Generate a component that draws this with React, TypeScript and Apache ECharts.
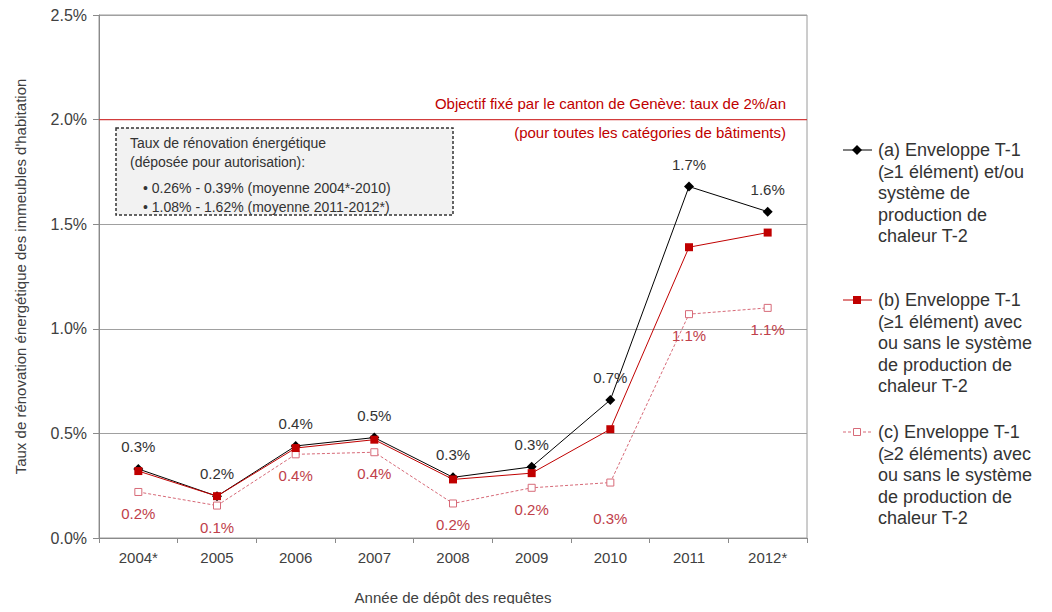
import React, { useEffect, useRef } from "react";
import * as echarts from "echarts";

const categories = ["2004*", "2005", "2006", "2007", "2008", "2009", "2010", "2011", "2012*"];
const seriesA = [0.33, 0.2, 0.44, 0.48, 0.29, 0.34, 0.66, 1.68, 1.56];
const seriesB = [0.32, 0.2, 0.43, 0.47, 0.28, 0.31, 0.52, 1.39, 1.46];
const seriesC = [0.22, 0.155, 0.4, 0.41, 0.165, 0.24, 0.265, 1.07, 1.1];
const labelsA = ["0.3%", "0.2%", "0.4%", "0.5%", "0.3%", "0.3%", "0.7%", "1.7%", "1.6%"];
const labelsC = ["0.2%", "0.1%", "0.4%", "0.4%", "0.2%", "0.2%", "0.3%", "1.1%", "1.1%"];
const objectiveValue = 2.0;
const objectiveLines = [
  "Objectif fixé par le canton de Genève: taux de 2%/an",
  "(pour toutes les catégories de bâtiments)",
];
const boxLines = [
  "Taux de rénovation énergétique",
  "(déposée pour autorisation):",
  "• 0.26% - 0.39% (moyenne 2004*-2010)",
  "• 1.08% - 1.62% (moyenne 2011-2012*)",
];
const legendA = ["(a) Enveloppe T-1", "(≥1 élément) et/ou", "système de", "production de", "chaleur T-2"];
const legendB = ["(b) Enveloppe T-1", "(≥1 élément) avec", "ou sans le système", "de production de", "chaleur T-2"];
const legendC = ["(c) Enveloppe T-1", "(≥2 éléments) avec", "ou sans le système", "de production de", "chaleur T-2"];

const FONT = "'Liberation Sans', Arial, sans-serif";
const BLACK = "#000000";
const RED = "#c00000";
const OBJ_RED = "#d23c3c";
const PINK = "#d76a78";
const PINK_TEXT = "#c0404a";
const TXT = "#333333";
const GRID = "#a0a0a0";

export default function App() {
  const ref = useRef<HTMLDivElement>(null);
  useEffect(() => {
    if (!ref.current) return;
    const chart = echarts.init(ref.current, undefined, { renderer: "svg" });

    const graphics: any[] = [];
    graphics.push({
      type: "text", x: 786, y: 103,
      style: { text: objectiveLines[0], fill: RED, font: `15px ${FONT}`, textAlign: "right", textVerticalAlign: "middle" },
    });
    graphics.push({
      type: "text", x: 786, y: 132,
      style: { text: objectiveLines[1], fill: RED, font: `15px ${FONT}`, textAlign: "right", textVerticalAlign: "middle" },
    });
    graphics.push({
      type: "rect", shape: { x: 116, y: 128, width: 337, height: 87 },
      style: { fill: "#f2f2f2", stroke: "#333", lineWidth: 1.5, lineDash: [3, 2] },
    });
    const boxY = [143, 162, 188, 207];
    const boxX = [130, 130, 143, 143];
    boxLines.forEach((t, i) => {
      graphics.push({
        type: "text", x: boxX[i], y: boxY[i],
        style: { text: t, fill: TXT, font: `14px ${FONT}`, textVerticalAlign: "middle" },
      });
    });
    const legends = [
      { lines: legendA, y: 150, color: BLACK, dash: null, marker: "diamond" },
      { lines: legendB, y: 300, color: RED, dash: null, marker: "rect" },
      { lines: legendC, y: 432, color: PINK, dash: [3, 2], marker: "empty" },
    ];
    legends.forEach((lg) => {
      graphics.push({
        type: "line", shape: { x1: 843, y1: lg.y, x2: 872, y2: lg.y },
        style: { stroke: lg.color, lineWidth: 1, lineDash: lg.dash || undefined },
      });
      if (lg.marker === "diamond") {
        graphics.push({
          type: "polygon", shape: { points: [[857, lg.y - 5], [862, lg.y], [857, lg.y + 5], [852, lg.y]] },
          style: { fill: lg.color },
        });
      } else if (lg.marker === "rect") {
        graphics.push({ type: "rect", shape: { x: 853, y: lg.y - 4, width: 8, height: 8 }, style: { fill: lg.color } });
      } else {
        graphics.push({
          type: "rect", shape: { x: 853.5, y: lg.y - 3.5, width: 7, height: 7 },
          style: { fill: "#fff", stroke: lg.color, lineWidth: 1 },
        });
      }
      lg.lines.forEach((t, k) => {
        graphics.push({
          type: "text", x: 878, y: lg.y + k * 21.5,
          style: { text: t, fill: TXT, font: `18px ${FONT}`, textVerticalAlign: "middle" },
        });
      });
    });

    const dataC = seriesC.map((v, i) =>
      i === 6 ? { value: v, label: { distance: 24 } } : v
    );

    chart.setOption({
      animation: false,
      textStyle: { fontFamily: FONT },
      grid: { left: 99, right: 245, top: 15, bottom: 74, show: true, borderColor: "#9a9a9a", borderWidth: 1 },
      xAxis: [
        {
          type: "category",
          data: categories,
          boundaryGap: true,
          axisLine: { lineStyle: { color: "#8a8a8a" } },
          axisTick: { show: true, alignWithLabel: false, length: 5, lineStyle: { color: "#8a8a8a" } },
          axisLabel: { fontSize: 15, color: "#404040", margin: 12, fontFamily: FONT },
          name: "Année de dépôt des requêtes",
          nameLocation: "middle",
          nameGap: 52,
          nameTextStyle: { fontSize: 15, color: "#404040", fontFamily: FONT },
        },
        { type: "value", min: 0, max: 1, show: false },
      ],
      yAxis: {
        type: "value",
        min: 0,
        max: 2.5,
        interval: 0.5,
        axisLine: { show: true, lineStyle: { color: "#8a8a8a" } },
        axisTick: { show: true, length: 6, lineStyle: { color: "#8a8a8a" } },
        axisLabel: { fontSize: 16, color: "#404040", margin: 12, fontFamily: FONT, formatter: (v: number) => v.toFixed(1) + "%" },
        splitLine: { show: true, lineStyle: { color: GRID, width: 1 } },
        name: "Taux de rénovation énergétique des immeubles d'habitation",
        nameLocation: "middle",
        nameGap: 71,
        nameTextStyle: { fontSize: 15, color: "#404040", fontFamily: FONT },
      },
      graphic: graphics,
      series: [
        {
          name: "objectif",
          type: "line",
          xAxisIndex: 1,
          data: [[0, objectiveValue], [1, objectiveValue]],
          symbol: "none",
          silent: true,
          lineStyle: { color: OBJ_RED, width: 1.2 },
          itemStyle: { color: OBJ_RED },
          z: 1,
        },
        {
          name: "a",
          type: "line",
          data: seriesA,
          symbol: "diamond",
          symbolSize: 10,
          itemStyle: { color: BLACK },
          lineStyle: { color: BLACK, width: 1 },
          label: {
            show: true, position: "top", distance: 10, fontSize: 15, color: TXT, fontFamily: FONT,
            formatter: (p: any) => labelsA[p.dataIndex],
          },
          z: 3,
        },
        {
          name: "c",
          type: "line",
          data: dataC,
          symbol: "rect",
          symbolSize: 7,
          itemStyle: { color: "#ffffff", borderColor: PINK, borderWidth: 1 },
          lineStyle: { color: PINK, width: 1, type: [3, 2] },
          label: {
            show: true, position: "bottom", distance: 10, fontSize: 15, color: PINK_TEXT, fontFamily: FONT,
            formatter: (p: any) => labelsC[p.dataIndex],
          },
          z: 2,
        },
        {
          name: "b",
          type: "line",
          data: seriesB,
          symbol: "rect",
          symbolSize: 8,
          itemStyle: { color: RED },
          lineStyle: { color: RED, width: 1 },
          z: 4,
        },
      ],
    });
    return () => chart.dispose();
  }, []);
  return <div ref={ref} style={{ width: 1052, height: 612, margin: -8 }} />;
}
